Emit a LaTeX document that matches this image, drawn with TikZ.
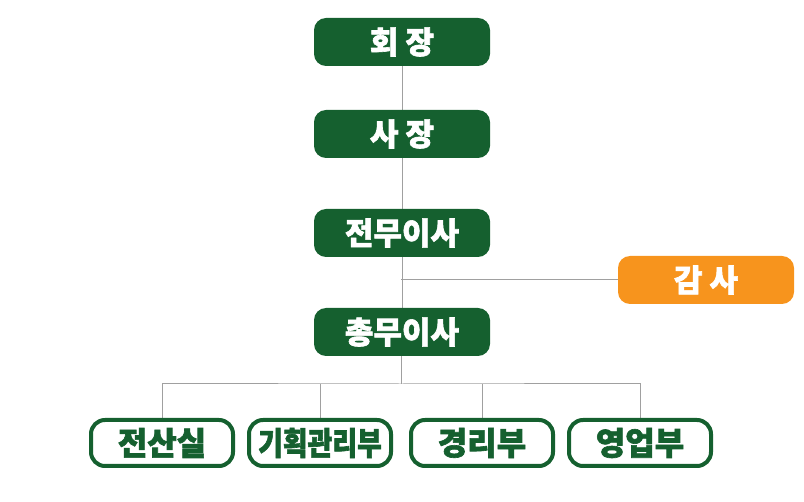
\documentclass[tikz,border=0pt]{standalone}
\usepackage{fontspec}
\newfontfamily\cjk{Noto Sans CJK KR}[BoldFeatures={FakeBold=2}]
\usetikzlibrary{positioning,backgrounds}
\definecolor{orggreen}{HTML}{15602F}
\definecolor{orgorange}{HTML}{F7941D}
\definecolor{orgline}{HTML}{A0A0A0}

\begin{document}
\begin{tikzpicture}
    [x=1pt,y=-1pt,
     officer/.style={rectangle,rounded corners=12pt,fill=orggreen,text=white,
       minimum width=176pt,minimum height=48pt,inner sep=0pt,
       font=\cjk\bfseries\fontsize{31}{31}\selectfont},
     auditor/.style={officer,fill=orgorange},
     dept/.style={rectangle,rounded corners=14pt,draw=orggreen,line width=4pt,
       fill=white,text=orggreen,minimum width=142pt,minimum height=46pt,inner sep=0pt,
       font=\cjk\bfseries\fontsize{32}{32}\selectfont},
     link/.style={draw=orgline,line width=1pt}]
    \useasboundingbox (0,0) rectangle (804,502);
    \node (hoejang) at (402,42) [officer] {회 장};
    \node (sajang) at (402,134) [officer] {사 장};
    \node (jeonmu) at (402,233) [officer] {전무이사};
    \node (chongmu) at (402,332) [officer] {총무이사};
    \node (gamsa) at (706,280) [auditor] {감 사};
    \node (jeonsan) at (162,443) [dept] {전산실};
    \node (gihoek) at (320,443) [dept] {\scalebox{0.84}[1]{기획관리부}};
    \node (gyeongri) at (482,443) [dept] {경리부};
    \node (yeongeop) at (640,443) [dept] {영업부};
    \coordinate (bus) at (401,384);
    \coordinate (branch) at (bus |- gamsa);
    \begin{scope}[on background layer]
      \draw [link] (hoejang) -- (sajang) -- (jeonmu) -- (chongmu);
      \draw [link] (branch) -- (gamsa);
      \draw [link] (chongmu.south -| bus) -- (bus);
      \draw [link] (jeonsan) |- (bus) -| (yeongeop);
      \draw [link] (gihoek) -- (gihoek |- bus);
      \draw [link] (gyeongri) -- (gyeongri |- bus);
    \end{scope}
\end{tikzpicture}
\end{document}
